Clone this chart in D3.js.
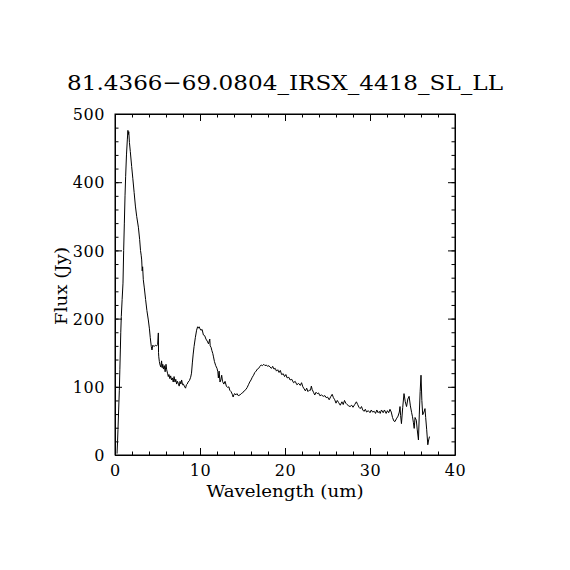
<!DOCTYPE html>
<html>
<head>
<meta charset="utf-8">
<script src="https://cdn.jsdelivr.net/npm/d3@7"></script>
<style>
  body { margin: 0; background: #fff; }
  svg text { font-family: "DejaVu Serif", "Liberation Serif", serif; fill: #000; }
</style>
</head>
<body>
<div id="chart"></div>
<script>
const chartTitle = '81.4366\u221269.0804_IRSX_4418_SL_LL';
const xLabel = 'Wavelength (um)';
const yLabel = 'Flux (Jy)';

const xTicks = [0, 10, 20, 30, 40];
const yTicks = [0, 100, 200, 300, 400, 500];

// wavelength (um)
const wavelength = [
  0.24, 0.30, 0.35, 0.43, 0.51, 0.57, 0.63, 0.68, 0.74, 0.84, 0.94, 1.02, 1.10, 1.18, 1.25, 1.35, 1.45, 1.52, 1.57, 1.62,
  1.70, 1.80, 1.96, 2.10, 2.25, 2.40, 2.55, 2.75, 2.90, 3.00, 3.08, 3.14, 3.20, 3.25, 3.33, 3.45, 3.60, 3.75, 3.92, 4.05,
  4.15, 4.27, 4.35, 4.45, 4.60, 4.75, 4.90, 5.02, 5.10, 5.12, 5.15, 5.22, 5.30, 5.40, 5.48, 5.55, 5.62, 5.70, 5.80, 5.90,
  6.00, 6.08, 6.18, 6.27, 6.35, 6.45, 6.55, 6.65, 6.75, 6.85, 6.95, 7.06, 7.15, 7.25, 7.35, 7.45, 7.55, 7.65, 7.75, 7.84,
  7.95, 8.05, 8.15, 8.30, 8.40, 8.50, 8.60, 8.75, 8.90, 9.00, 9.10, 9.20, 9.30, 9.45, 9.60, 9.72, 9.80, 9.90, 10.00, 10.10,
  10.25, 10.40, 10.55, 10.70, 10.85, 11.00, 11.15, 11.20, 11.30, 11.40, 11.50, 11.57, 11.70, 11.85, 12.00, 12.10, 12.16, 12.25, 12.35, 12.45,
  12.55, 12.65, 12.80, 12.95, 13.10, 13.25, 13.40, 13.50, 13.65, 13.80, 13.90, 14.00, 14.10, 14.20, 14.35, 14.50, 14.70, 14.85, 15.00, 15.20,
  15.40, 15.55, 15.70, 15.85, 16.00, 16.15, 16.30, 16.45, 16.60, 16.75, 16.90, 17.05, 17.20, 17.35, 17.50, 17.65, 17.80, 17.95, 18.10, 18.24,
  18.40, 18.55, 18.70, 18.85, 19.00, 19.15, 19.30, 19.45, 19.60, 19.80, 19.95, 20.10, 20.25, 20.45, 20.60, 20.80, 21.00, 21.20, 21.40, 21.60,
  21.80, 21.95, 22.10, 22.25, 22.40, 22.55, 22.70, 22.85, 23.00, 23.10, 23.20, 23.35, 23.50, 23.65, 23.80, 23.95, 24.10, 24.30, 24.50, 24.70,
  24.85, 25.00, 25.20, 25.40, 25.55, 25.70, 25.85, 26.00, 26.15, 26.30, 26.50, 26.70, 26.85, 27.00, 27.15, 27.30, 27.50, 27.65, 27.85, 28.00,
  28.20, 28.40, 28.55, 28.70, 28.85, 29.00, 29.15, 29.30, 29.45, 29.60, 29.80, 30.00, 30.15, 30.30, 30.50, 30.65, 30.80, 30.95, 31.10, 31.20,
  31.35, 31.55, 31.70, 31.90, 32.05, 32.20, 32.35, 32.50, 32.65, 32.80, 32.94, 33.10, 33.30, 33.45, 33.53, 33.60, 33.70, 33.85, 34.00, 34.15,
  34.30, 34.45, 34.60, 34.75, 34.90, 35.00, 35.10, 35.20, 35.30, 35.45, 35.55, 35.70, 35.80, 35.90, 36.00, 36.10, 36.20, 36.35, 36.47, 36.55,
  36.67, 36.80, 36.90, 37.00
];

// flux (Jy)
const flux = [
  2, 20, 37, 66, 95, 125, 154, 180, 203, 228, 252, 300, 340, 380, 408, 440, 462, 476, 470, 474,
  458, 445, 423, 405, 385, 365, 350, 334, 316, 300, 293, 286, 270, 276, 257, 245, 228, 212, 198, 185,
  172, 159, 154, 161, 159, 161, 160, 162, 179, 150, 144, 137, 132, 129, 138, 128, 133, 126, 131, 122,
  133, 125, 120, 115, 118, 112, 116, 110, 113, 107, 115, 107, 111, 104, 108, 105, 101, 108, 104, 110,
  103, 104, 101, 98, 103, 104, 107, 109, 114, 120, 135, 148, 159, 172, 183, 188, 186, 188, 185, 183,
  184, 176, 175, 170, 167, 163, 170, 160, 158, 153, 149, 145, 137, 131, 127, 122, 113, 123, 107, 110,
  117, 108, 104, 108, 101, 99, 100, 95, 93, 89, 85, 89, 90, 88, 90, 87, 88, 90, 91, 94,
  96, 99, 103, 107, 110, 114, 117, 121, 123, 126, 127, 130, 132, 131, 133, 131, 132, 130, 131, 129,
  127, 130, 126, 127, 123, 125, 121, 124, 118, 119, 115, 118, 113, 114, 110, 111, 106, 108, 103, 105,
  102, 106, 100, 97, 94, 98, 93, 95, 95, 101, 96, 92, 88, 92, 90, 91, 87, 88, 86, 87,
  84, 85, 81, 86, 89, 84, 81, 76, 80, 77, 73, 78, 74, 80, 76, 74, 72, 71, 73, 70,
  74, 78, 74, 70, 68, 71, 66, 64, 67, 63, 65, 62, 66, 63, 64, 61, 66, 62, 64, 61,
  66, 62, 66, 61, 65, 62, 67, 63, 55, 50, 49, 53, 57, 63, 71, 58, 46, 70, 90, 78,
  71, 82, 86, 72, 62, 56, 48, 39, 55, 51, 38, 22, 60, 93, 117, 80, 59, 63, 68, 55,
  37, 15, 22, 27
];

class SpectrumPlot {

    constructor(_config, _x, _y) {
        this.config = {
            parentElement: _config.parentElement,
            containerWidth: _config.containerWidth || 570,
            containerHeight: _config.containerHeight || 570,
            margin: _config.margin || { top: 114, right: 115, bottom: 115, left: 115 },
            majorTick: 7,
            minorTick: 3.5
        }
        this.data = _x.map((d, i) => ({ x: d, y: _y[i] }));
        this.initVis();
    }

    initVis() {
        let vis = this;

        vis.width = vis.config.containerWidth - vis.config.margin.left - vis.config.margin.right;
        vis.height = vis.config.containerHeight - vis.config.margin.top - vis.config.margin.bottom;

        vis.xScale = d3.scaleLinear()
            .domain([xTicks[0], xTicks[xTicks.length - 1]])
            .range([0, vis.width]);

        vis.yScale = d3.scaleLinear()
            .domain([yTicks[0], yTicks[yTicks.length - 1]])
            .range([vis.height, 0]);

        vis.svg = d3.select(vis.config.parentElement).append('svg')
            .attr('width', vis.config.containerWidth)
            .attr('height', vis.config.containerHeight);

        vis.chart = vis.svg.append('g')
            .attr('transform', `translate(${vis.config.margin.left},${vis.config.margin.top})`);

        // Title
        vis.svg.append('text')
            .attr('x', 285)
            .attr('y', 90)
            .attr('text-anchor', 'middle')
            .attr('font-size', 21)
            .attr('textLength', 436)
            .attr('lengthAdjust', 'spacingAndGlyphs')
            .text(chartTitle);

        // Axis titles
        vis.chart.append('text')
            .attr('x', vis.width / 2)
            .attr('y', vis.height + 42)
            .attr('text-anchor', 'middle')
            .attr('font-size', 16)
            .attr('textLength', 157)
            .attr('lengthAdjust', 'spacingAndGlyphs')
            .text(xLabel);

        vis.svg.append('text')
            .attr('transform', 'translate(67,286) rotate(-90)')
            .attr('text-anchor', 'middle')
            .attr('font-size', 16)
            .attr('textLength', 78)
            .attr('lengthAdjust', 'spacingAndGlyphs')
            .text(yLabel);

        vis.renderVis();
    }

    renderVis() {
        let vis = this;
        const M = vis.config.majorTick, m = vis.config.minorTick;

        // minor ticks: 5 intervals between x majors and y majors
        const xMinor = d3.range(xTicks[0], xTicks[xTicks.length - 1] + 0.001, 2);
        const yMinor = d3.range(yTicks[0], yTicks[yTicks.length - 1] + 0.001, 20);

        const bottom = d3.axisBottom(vis.xScale).tickValues(xTicks).tickSize(-M).tickPadding(10).tickSizeOuter(0);
        const top = d3.axisTop(vis.xScale).tickValues(xTicks).tickSize(-M).tickFormat('').tickSizeOuter(0);
        const left = d3.axisLeft(vis.yScale).tickValues(yTicks).tickSize(-M).tickPadding(10).tickSizeOuter(0);
        const right = d3.axisRight(vis.yScale).tickValues(yTicks).tickSize(-M).tickFormat('').tickSizeOuter(0);

        const styleAxis = g => {
            g.selectAll('line, path').attr('stroke', '#000').attr('stroke-width', 1);
            g.selectAll('text')
                .attr('font-size', 16)
                .attr('font-family', '"DejaVu Serif", serif')
                .attr('fill', '#000')
                .attr('letter-spacing', 0.6);
        };

        vis.chart.append('g').attr('transform', `translate(0,${vis.height})`).call(bottom).call(styleAxis);
        vis.chart.append('g').call(top).call(styleAxis);
        vis.chart.append('g').call(left).call(styleAxis)
            .selectAll('text').attr('dy', '0.36em');
        vis.chart.append('g').attr('transform', `translate(${vis.width},0)`).call(right).call(styleAxis);

        // minor tick marks
        const minorAxes = [
            [d3.axisBottom(vis.xScale).tickValues(xMinor), `translate(0,${vis.height})`],
            [d3.axisTop(vis.xScale).tickValues(xMinor), 'translate(0,0)'],
            [d3.axisLeft(vis.yScale).tickValues(yMinor), 'translate(0,0)'],
            [d3.axisRight(vis.yScale).tickValues(yMinor), `translate(${vis.width},0)`]
        ];
        minorAxes.forEach(([ax, tr]) => {
            vis.chart.append('g').attr('transform', tr)
                .call(ax.tickSize(-m).tickFormat('').tickSizeOuter(0))
                .call(styleAxis)
                .call(g => g.select('.domain').remove());
        });

        // Frame
        vis.chart.append('rect')
            .attr('width', vis.width)
            .attr('height', vis.height)
            .attr('fill', 'none')
            .attr('stroke', '#000')
            .attr('stroke-width', 1);

        const line = d3.line()
            .x(d => vis.xScale(d.x))
            .y(d => vis.yScale(d.y));

        vis.chart.append('path')
            .datum(vis.data)
            .attr('fill', 'none')
            .attr('stroke', '#000')
            .attr('stroke-width', 1)
            .attr('d', line);
    }
}

new SpectrumPlot({ parentElement: '#chart' }, wavelength, flux);
</script>
</body>
</html>
